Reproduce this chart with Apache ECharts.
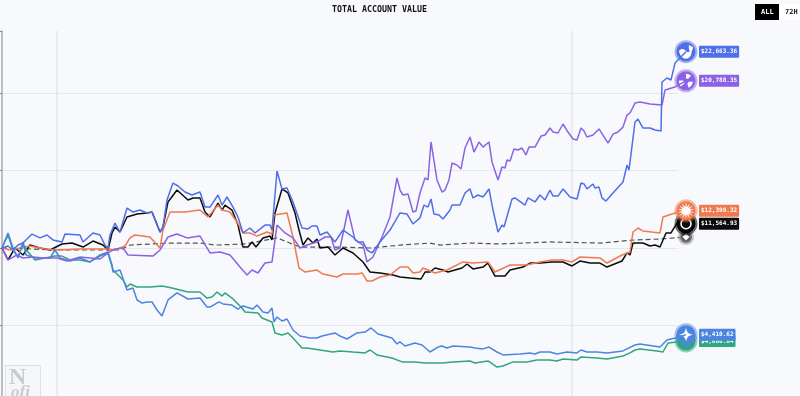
<!DOCTYPE html>
<html><head><meta charset="utf-8">
<style>html,body{margin:0;padding:0;background:#f8f9fc;overflow:hidden;height:396px}#c{width:800px;height:420px;filter:blur(0.4px)}</style>
<script src="https://cdn.jsdelivr.net/npm/echarts@6/dist/echarts.min.js"></script>
</head><body><div id="c"></div>
<script>
const titleText = 'TOTAL ACCOUNT VALUE';
const rangeLabels = ['ALL', '72H'];
const timeMarks = [57, 572];
const endLabels = {deepseek:'$22,663.36', qwen:'$20,788.35', claude:'$12,399.32', grok:'$11,564.93', gemini:'$4,410.62', gpt:'$4,000.84'};

const deepseek = [[2,10000],[8,10130],[13,9870],[18,10190],[23,10320],[32,10900],[40,10650],[47,10840],[53,10520],[62,10390],[65,10900],[80,10840],[83,10390],[93,10970],[100,10840],[105,10190],[108,10000],[110,10840],[115,11610],[120,11030],[127,12580],[133,12320],[140,12450],[147,12260],[152,12320],[160,11030],[163,11350],[167,13100],[173,14190],[178,14000],[185,13610],[192,13420],[200,13610],[205,12640],[210,12640],[218,13420],[222,12770],[227,13290],[233,12640],[238,12000],[243,10970],[250,11290],[255,10970],[265,11480],[270,11480],[272,11160],[277,14970],[282,13810],[287,13870],[293,12970],[302,11290],[308,11230],[312,11420],[317,11420],[320,10840],[327,11030],[335,10390],[343,11160],[353,10710],[358,10390],[363,10390],[367,9870],[372,9680],[380,10390],[390,11160],[400,12260],[407,12190],[413,11550],[420,11940],[424,12770],[428,12640],[431,13160],[434,12190],[439,12130],[443,11870],[450,12450],[452,12770],[460,12770],[465,13550],[470,13810],[473,13230],[478,13420],[483,13290],[489,13810],[493,12450],[498,11030],[502,11480],[504,11350],[512,13160],[515,13230],[525,12770],[528,13230],[535,12970],[540,13420],[545,13100],[550,13740],[553,13350],[558,13350],[563,13810],[570,13290],[577,13160],[581,14190],[584,14130],[587,13810],[593,14130],[595,13870],[599,13930],[602,13230],[606,13030],[613,13550],[623,14260],[627,15350],[629,15030],[635,18130],[638,18320],[643,17740],[650,17740],[655,17610],[661,17550],[662,20710],[667,20970],[671,20840],[675,21930],[686,22663.36]];

const qwen = [[2,10000],[8,9230],[17,9550],[23,9355],[33,9420],[43,9355],[57,9355],[67,9160],[80,9420],[100,9290],[108,9680],[115,9940],[123,10000],[128,9550],[153,9480],[160,9870],[163,10190],[168,10710],[177,10900],[187,10650],[200,10770],[210,9680],[220,9740],[230,9550],[240,8770],[247,8260],[252,8580],[258,8390],[265,9030],[272,9100],[277,11480],[285,10970],[293,10650],[300,10000],[307,10190],[317,10390],[325,10710],[331,10710],[335,9870],[340,10000],[348,12450],[355,10520],[363,10190],[367,9100],[373,9420],[382,10710],[390,12000],[397,14520],[400,13740],[403,13420],[408,13480],[413,12320],[416,12390],[420,13550],[425,14520],[428,14390],[431,16840],[437,14390],[442,13610],[445,13740],[449,14390],[452,15480],[457,15350],[461,15100],[465,16450],[470,17160],[474,16190],[479,16840],[483,16510],[489,16840],[492,15550],[498,14390],[502,15220],[505,15160],[507,15680],[510,15610],[514,16390],[518,16320],[522,16450],[526,16000],[529,16510],[535,16510],[541,17220],[545,17290],[550,17740],[553,17480],[558,17420],[563,18000],[568,17480],[573,17030],[577,16970],[581,17740],[584,17550],[587,17160],[593,17290],[599,17680],[608,16770],[613,17350],[618,17480],[623,17800],[627,18580],[630,18710],[635,19350],[640,19420],[650,19290],[662,19220],[665,20190],[675,20390],[686,20788.35]];

const grok = [[2,10000],[8,9230],[15,10000],[23,9550],[30,10190],[40,10000],[50,9870],[62,10260],[72,10320],[83,10060],[93,10450],[103,10190],[108,9870],[112,10970],[115,11350],[120,11030],[127,12000],[137,12190],[147,12260],[152,12320],[160,11030],[163,11350],[168,12970],[177,13740],[188,13100],[193,13230],[200,13230],[205,12320],[210,12000],[218,12900],[222,12450],[225,12770],[232,12450],[238,11480],[243,10060],[248,10060],[252,10390],[256,10060],[263,10650],[270,10770],[272,10520],[275,12260],[282,13810],[288,13550],[295,12260],[299,11160],[303,10190],[308,10650],[313,10320],[317,10580],[320,10000],[328,10060],[335,9550],[343,10000],[353,9680],[363,9100],[370,8450],[380,8390],[393,8260],[400,8130],[410,8060],[421,8000],[425,8450],[430,8450],[435,8710],[443,8580],[448,8450],[462,8710],[467,8970],[473,8650],[483,8770],[488,9030],[495,8190],[505,8190],[510,8580],[523,8770],[530,9030],[540,9030],[552,9100],[563,9100],[572,8840],[580,9160],[590,9030],[600,9030],[607,8770],[622,9160],[627,9680],[630,9550],[633,10320],[643,10320],[650,10130],[655,10190],[660,10060],[666,10970],[671,10970],[677,11610],[686,11564.93]];

const claude = [[2,10000],[10,9870],[30,10130],[45,9940],[60,9870],[80,9940],[108,9940],[115,9870],[125,10130],[130,10650],[135,10840],[150,10710],[160,10000],[163,11160],[170,12320],[185,12320],[200,12450],[208,12000],[218,12770],[222,12450],[230,12320],[237,11680],[243,10970],[250,10970],[257,10770],[267,11030],[272,10900],[274,12130],[287,12260],[293,10710],[299,8710],[305,8450],[317,8580],[323,8320],[337,8130],[343,8320],[357,8320],[362,8390],[367,7870],[372,7870],[380,8130],[390,8260],[400,8770],[408,8770],[413,8390],[420,8450],[423,8710],[435,8390],[447,8580],[463,9100],[473,9030],[488,9100],[495,8450],[510,8900],[527,8900],[540,9100],[552,9230],[563,9230],[572,9100],[580,9420],[600,9360],[607,9030],[622,9550],[630,9740],[633,11030],[638,11290],[643,11100],[660,10970],[663,12000],[675,12260],[686,12399.32]];

const benchmark = [[2,10000],[60,9870],[120,9870],[130,10190],[170,10320],[200,10320],[215,10190],[245,10260],[277,10650],[300,10060],[340,10060],[370,10000],[400,10190],[430,10320],[440,10190],[470,10320],[500,10260],[550,10390],[600,10320],[635,10520],[660,10580],[686,10710]];

const gemini = [[2,10000],[8,10970],[13,10000],[18,9355],[23,10390],[26,9550],[35,9355],[50,9355],[55,9870],[60,9355],[70,9160],[80,9355],[90,9100],[100,9550],[108,9740],[112,8900],[113,8450],[120,8580],[127,7290],[133,7420],[137,6650],[142,6450],[147,6520],[152,6520],[157,6000],[162,5610],[164,5680],[168,6650],[177,7100],[188,6710],[200,6770],[207,6190],[210,6190],[219,6520],[223,6390],[232,6320],[238,6060],[243,6260],[253,6060],[257,6320],[263,5870],[268,5810],[272,6130],[274,5230],[277,5550],[282,5290],[287,5420],[293,4710],[300,4320],[310,4190],[317,4190],[322,4320],[335,4520],[340,4320],[347,4130],[357,4520],[365,4580],[371,4840],[378,4450],[392,4190],[397,3810],[400,3940],[405,3680],[415,3870],[422,3740],[430,3290],[438,3610],[442,3680],[447,3550],[453,3680],[470,3610],[475,3550],[483,3490],[489,3610],[497,3290],[503,3100],[520,3160],[530,3230],[535,3160],[540,3290],[550,3290],[557,3160],[567,3290],[577,3230],[581,3420],[587,3290],[597,3290],[607,3230],[623,3360],[627,3490],[635,3740],[640,3810],[660,3610],[667,4070],[675,4190],[686,4410.62]];

const gpt = [[2,10000],[8,10840],[13,9870],[18,9420],[23,10260],[28,9740],[35,9230],[45,9355],[55,9480],[62,9480],[70,9230],[80,9230],[90,9100],[100,9480],[108,9680],[113,8580],[123,7940],[127,7480],[130,7680],[137,7480],[150,7480],[162,7550],[172,7420],[188,7160],[200,7160],[207,6770],[212,6840],[217,7160],[222,6900],[225,7100],[232,6770],[242,6130],[245,5870],[258,5810],[262,5480],[272,5230],[275,4520],[282,4390],[288,4520],[293,4190],[302,3550],[307,3550],[320,3420],[333,3290],[340,3360],[353,3290],[365,3230],[370,3420],[377,3100],[392,2900],[402,2650],[415,2650],[425,2580],[442,2580],[453,2650],[470,2710],[475,2580],[488,2710],[497,2320],[503,2390],[513,2650],[527,2650],[537,2770],[550,2770],[557,2710],[563,2840],[577,2770],[581,2970],[597,2900],[607,2840],[623,3030],[630,3230],[635,3420],[640,3490],[657,3360],[663,3290],[668,3870],[686,4000.84]];

function burst(n){let d='';for(let i=0;i<n*2;i++){const r=i%2?5:12,a=Math.PI*i/n;d+=(i?'L':'M')+(12+r*Math.sin(a)).toFixed(2)+' '+(12-r*Math.cos(a)).toFixed(2)+' ';}return 'path://'+d+'Z';}
const icons = {
  whale:'path://M1 10C2 15 6 20 12 20C17 20 21 16 21 11C22 9 24 7 23 4C22 5 21 5 20 4C19 3 18 3 17 2C16 5 17 8 18 10C16 12 14 12 12 10C9 7 5 6 1 10Z',
  triad:'path://M12 1C15 1 18 2 20 4L15 9C14 8 13 8 12 8ZM23 13C22 18 19 21 16 22L14 16C15 15 16 14 16 13ZM4 20C2 18 1 15 1 11L8 11C8 13 9 14 10 15Z',
  star:'path://M12 0C13 8 16 11 24 12C16 13 13 16 12 24C11 16 8 13 0 12C8 11 11 8 12 0Z',
  burst:burst(14),
  gem:'path://M12 4L20 12L12 20L4 12Z'
};

function line(name,data,color,opts){
  opts=opts||{};
  const end=data[data.length-1];
  const items=[{coord:end,symbol:'circle',symbolSize:opts.size||19,itemStyle:{color:color,borderColor:opts.halo,borderWidth:4},
    label:opts.label?{show:true,position:'right',distance:1.5,formatter:opts.label,color:'#fff',backgroundColor:color,fontFamily:'DejaVu Sans Mono',fontWeight:'bold',fontSize:6,padding:[3,2,3,2],borderRadius:1}:{show:false}}];
  if(opts.icon)items.push({coord:end,symbol:opts.icon,symbolSize:opts.iconSize||13,itemStyle:{color:opts.ring?'transparent':'#fff',borderColor:opts.ring?'#fff':'transparent',borderWidth:opts.ring?1.5:0},label:{show:false}});
  return {type:'line',name,data,showSymbol:false,silent:true,animation:false,
    lineStyle:{color,width:opts.width||1.5,type:opts.dash||'solid'},z:opts.z,
    markPoint:{silent:true,animation:false,data:items}};
}

const chart=echarts.init(document.getElementById('c'),null,{renderer:'canvas'});
chart.setOption({
  animation:false,
  backgroundColor:'#f8f9fc',
  title:{text:titleText,left:327,top:1,textStyle:{fontFamily:'DejaVu Sans Mono',fontWeight:'bold',fontSize:8.3,color:'#111'}},
  grid:{left:2,right:114,top:31,height:372,containLabel:false},
  xAxis:{type:'value',min:2,max:686,axisLine:{show:false},axisLabel:{show:false},
    axisTick:{show:false,customValues:timeMarks},
    splitLine:{show:true,lineStyle:{color:'#e4e6ec',width:1.5}}},
  yAxis:{type:'value',min:0,max:24000,interval:5000,axisLabel:{show:false},
    axisLine:{show:true,onZero:false,lineStyle:{color:'#a9abb2',width:1.5}},
    axisTick:{show:true,length:2,lineStyle:{color:'#888'}},
    splitLine:{show:true,showMaxLine:false,lineStyle:{color:'#e6e7ec',width:1}}},
  series:[
    line('benchmark',benchmark,'#555555',{dash:[5,3],width:1.2,size:12,icon:icons.gem,iconSize:7,halo:'rgba(150,150,150,0.5)',z:2}),
    line('grok',grok,'#0b0b0b',{label:endLabels.grok,icon:'circle',iconSize:10,ring:true,halo:'rgba(0,0,0,0.55)',z:3}),
    line('claude',claude,'#ef7a50',{label:endLabels.claude,icon:icons.burst,iconSize:17,halo:'rgba(239,122,80,0.5)',z:4}),
    line('gpt',gpt,'#2fa67f',{label:endLabels.gpt,halo:'rgba(47,166,127,0.5)',z:5}),
    line('gemini',gemini,'#4c84e4',{label:endLabels.gemini,icon:icons.star,iconSize:15,halo:'rgba(76,132,228,0.5)',z:6}),
    line('qwen',qwen,'#8b62e6',{label:endLabels.qwen,icon:icons.triad,iconSize:14,halo:'rgba(139,98,230,0.5)',z:7}),
    line('deepseek',deepseek,'#4f6fe8',{label:endLabels.deepseek,icon:icons.whale,iconSize:14,halo:'rgba(79,111,232,0.5)',z:8})
  ],
  graphic:[
    {type:'rect',left:755,top:4,shape:{width:24,height:16},style:{fill:'#000'}},
    {type:'rect',left:779,top:4,shape:{width:21,height:16},style:{fill:'#fff'}},
    {type:'text',left:761,top:9,style:{text:rangeLabels[0],fill:'#fff',font:'bold 7px "DejaVu Sans Mono"'}},
    {type:'text',left:785,top:9,style:{text:rangeLabels[1],fill:'#222',font:'bold 7px "DejaVu Sans Mono"'}},
    {type:'rect',left:678,top:31,z:1,shape:{width:9,height:300},style:{fill:'#f8f9fc'}},
    {type:'rect',left:5,top:365,shape:{width:35,height:40},style:{fill:'#f5f6f8',stroke:'#dfe1e6',lineWidth:1}},
    {type:'text',left:9,top:366,style:{text:'N',fill:'#c9cbd0',font:'bold 24px "Liberation Serif"'}},
    {type:'text',left:11,top:384,style:{text:'ofi',fill:'#c9cbd0',font:'italic bold 17px "Liberation Serif"'}}
  ]
});
</script></body></html>
